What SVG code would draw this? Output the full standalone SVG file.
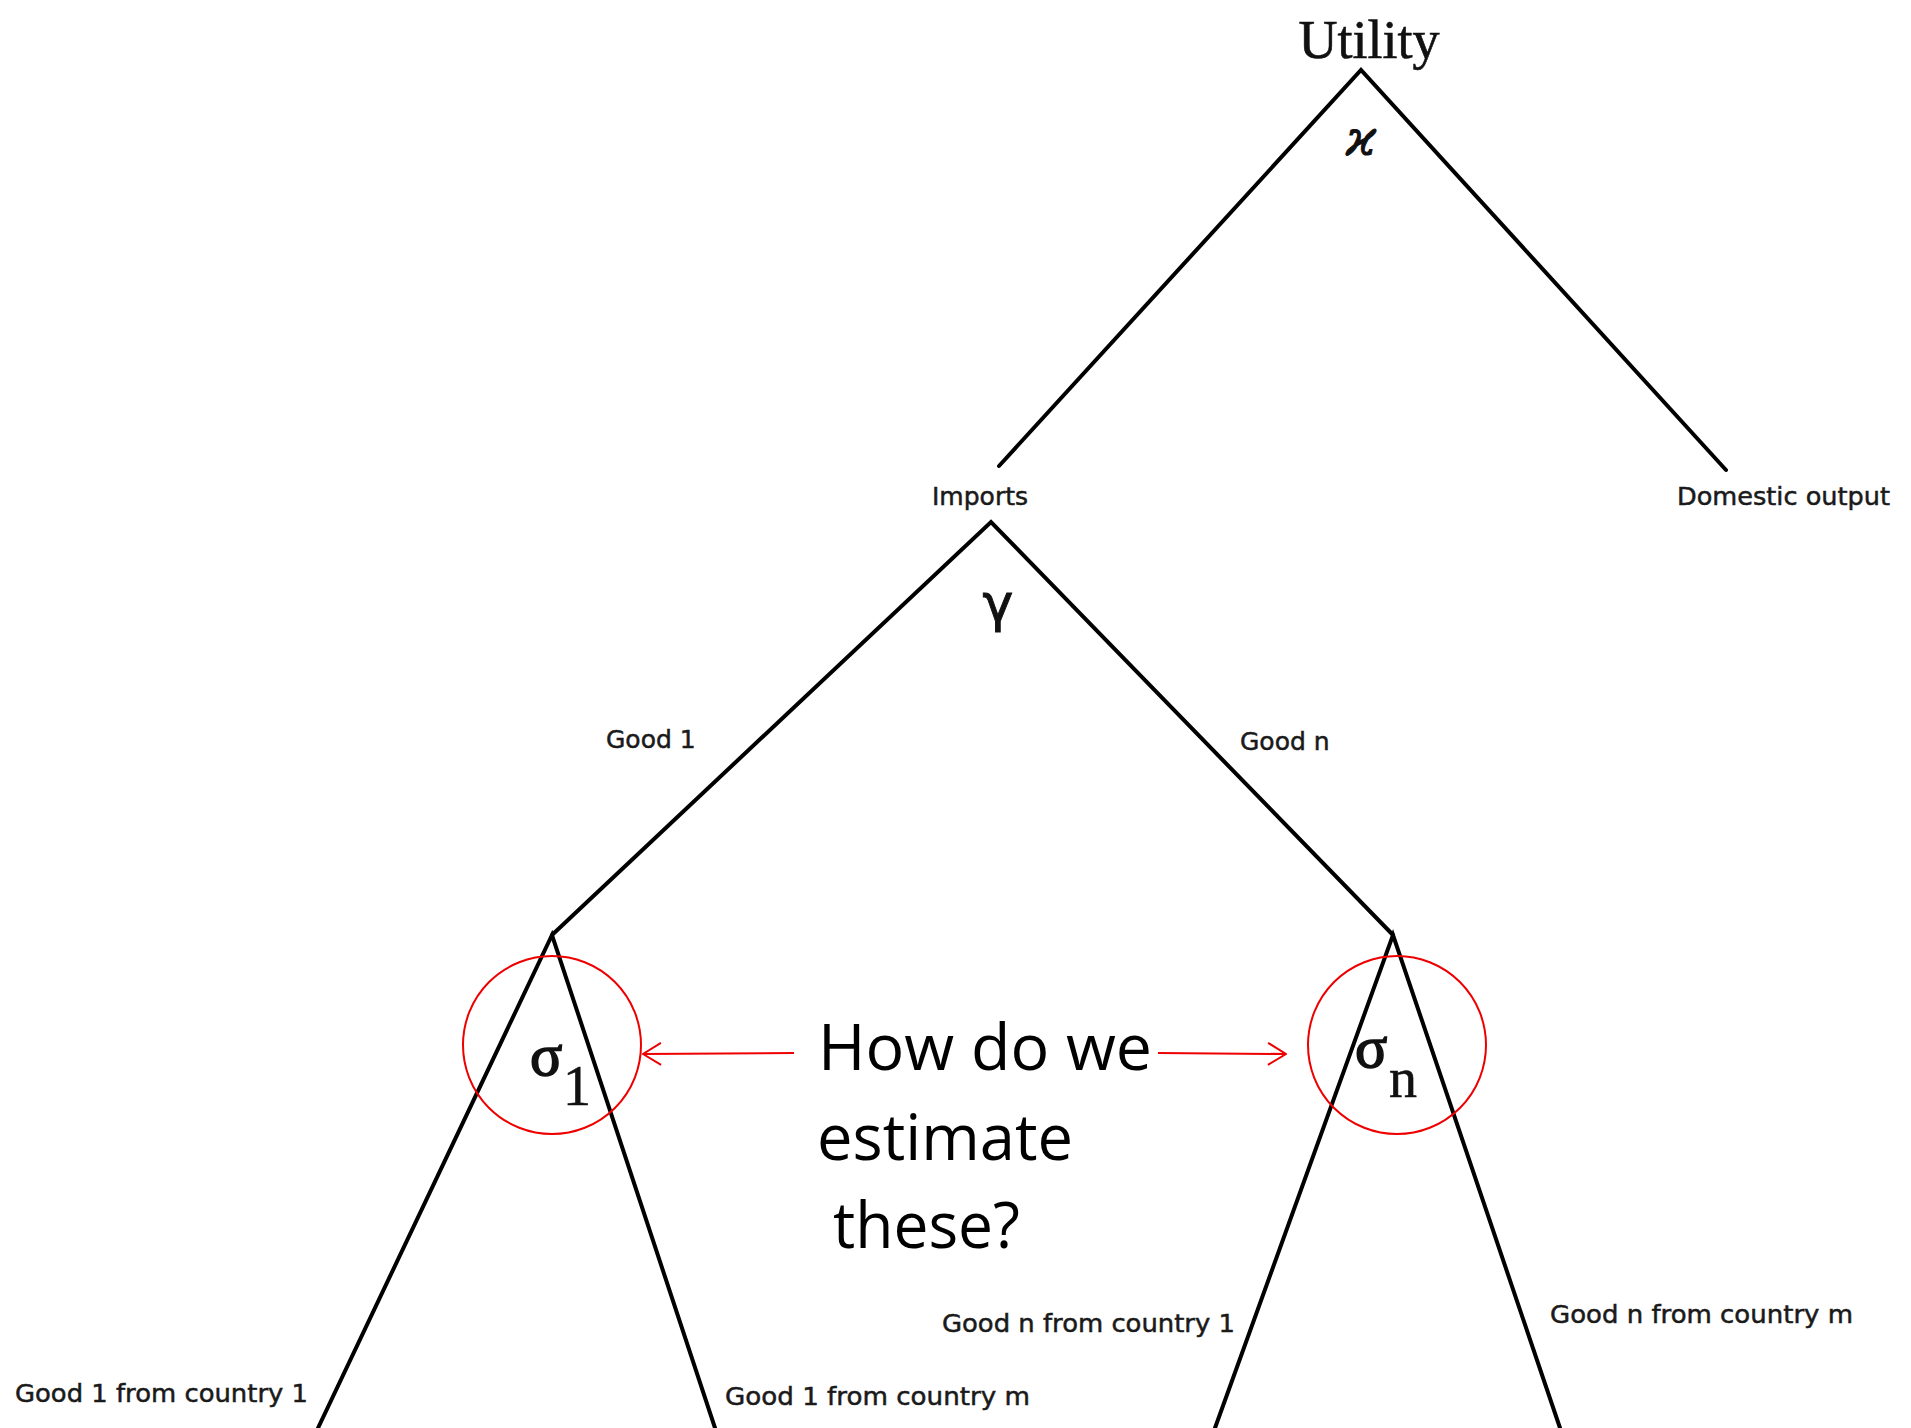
<svg xmlns="http://www.w3.org/2000/svg" width="1911" height="1428" viewBox="0 0 1911 1428">
<defs>
<style>
.ln{stroke:#000;stroke-width:4;fill:none;stroke-linecap:round;stroke-linejoin:miter}
.lbl{font-family:"DejaVu Sans",sans-serif;font-size:25px;fill:#1a1a1a;stroke:#1a1a1a;stroke-width:0.5}
.ser{font-family:"Liberation Serif",serif;fill:#111}
.sg{stroke:#111;stroke-width:1.6}
.q{font-family:"Open Sans",sans-serif;font-size:64px;fill:#000}
.red{stroke:#e00;stroke-width:2;fill:none}
</style>
<marker id="ah" viewBox="0 0 20 24" refX="19" refY="12" markerWidth="20" markerHeight="24" markerUnits="userSpaceOnUse" orient="auto">
<path d="M1,1 L19,12 L1,23" fill="none" stroke="#e00" stroke-width="2"/>
</marker>
</defs>
<rect width="1911" height="1428" fill="#fff"/>
<g id="connectors">
<polyline class="ln" points="999,466 1361,70 1726,470"/>
<polyline class="ln" points="552,935 991,522 1393,935"/>
<polyline class="ln" points="318,1428 552,935 715,1428"/>
<polyline class="ln" points="1215,1428 1393,935 1560,1428"/>
<line class="red" x1="794" y1="1053" x2="643" y2="1054" marker-end="url(#ah)"/>
<line class="red" x1="1158" y1="1053" x2="1286" y2="1054" marker-end="url(#ah)"/>
</g>
<g id="utility">
<text class="ser" x="1369" y="58" font-size="54" text-anchor="middle" stroke="#111" stroke-width="0.6">Utility</text>
<text x="1361" y="155" font-family="DejaVu Serif,serif" font-style="italic" font-size="48" text-anchor="middle" fill="#111" stroke="#111" stroke-width="1.2">ϰ</text>
</g>
<g id="imports">
<text class="lbl" x="980" y="505" text-anchor="middle">Imports</text>
<text x="998" y="621" font-family="DejaVu Sans,sans-serif" font-size="52" text-anchor="middle" fill="#111" stroke="#111" stroke-width="1">γ</text>
</g>
<g id="domestic">
<text class="lbl" x="1677" y="505" textLength="213" lengthAdjust="spacingAndGlyphs">Domestic output</text>
</g>
<g id="good1">
<text class="lbl" x="606" y="748">Good 1</text>
</g>
<g id="goodn">
<text class="lbl" x="1240" y="750">Good n</text>
</g>
<g id="sigma1">
<circle class="red" cx="552" cy="1045" r="89"/>
<text class="ser sg" x="530" y="1075" font-size="60">σ</text>
<text class="ser" x="563" y="1105" font-size="56" stroke="#111" stroke-width="0.6">1</text>
</g>
<g id="sigman">
<circle class="red" cx="1397" cy="1045" r="89"/>
<text class="ser sg" x="1355" y="1067" font-size="60">σ</text>
<text class="ser" x="1389" y="1097" font-size="56" stroke="#111" stroke-width="0.6">n</text>
</g>
<g id="question">
<text class="q" x="818" y="1070" textLength="334" lengthAdjust="spacingAndGlyphs">How do we</text>
<text class="q" x="817" y="1160" textLength="256" lengthAdjust="spacingAndGlyphs">estimate</text>
<text class="q" x="833" y="1248" textLength="187" lengthAdjust="spacingAndGlyphs">these?</text>
</g>
<g id="leaf-g1c1">
<text class="lbl" x="15" y="1402" textLength="293" lengthAdjust="spacingAndGlyphs">Good 1 from country 1</text>
</g>
<g id="leaf-g1cm">
<text class="lbl" x="725" y="1405" textLength="305" lengthAdjust="spacingAndGlyphs">Good 1 from country m</text>
</g>
<g id="leaf-gnc1">
<text class="lbl" x="942" y="1332" textLength="293" lengthAdjust="spacingAndGlyphs">Good n from country 1</text>
</g>
<g id="leaf-gncm">
<text class="lbl" x="1550" y="1323" textLength="303" lengthAdjust="spacingAndGlyphs">Good n from country m</text>
</g>
</svg>
